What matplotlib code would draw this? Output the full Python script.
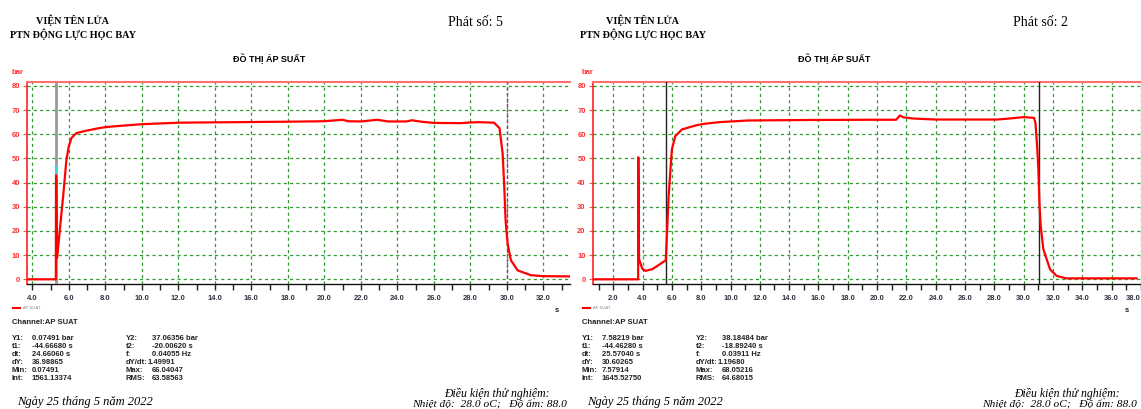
import matplotlib
matplotlib.use("Agg")
import matplotlib.pyplot as plt
import numpy as np

# Phát số 5 (left) - pressure trace
t5 = [3.71, 5.29, 5.30, 5.32, 5.36, 5.51, 5.69, 5.87, 6.0, 6.15, 6.42, 6.97, 7.7, 8.06, 9.0,
      10.07, 12.08, 15.0, 18.0, 20.0, 21.0, 21.3, 22.0, 22.9, 23.5, 24.5, 24.8, 25.3, 26.0,
      27.5, 28.0, 28.5, 29.3, 29.6, 29.77, 29.86, 29.93, 30.04, 30.22, 30.59, 31.32, 32.0, 33.46]
p5 = [0, 0, 43, 42, 8.8, 20.5, 34.3, 49.5, 55, 58.5, 60.5, 61.5, 62.6, 63, 63.6,
      64.2, 64.8, 65.0, 65.2, 65.4, 66.0, 65.4, 65.3, 66.0, 65.3, 65.3, 65.8, 65.2, 64.7,
      64.6, 64.9, 65.0, 64.8, 62.5, 52, 38, 24.5, 14.8, 7.9, 3.7, 1.7, 1.3, 1.2]

# Phát số 2 (right)
t2 = [0.6, 3.70, 3.71, 3.73, 3.76, 3.99, 4.21, 4.67, 5.0, 5.46, 5.58, 5.62, 5.78, 6.0, 6.23,
      6.69, 7.6, 8.05, 9.19, 11.2, 15.0, 19.4, 21.3, 21.56, 21.8, 22.5, 24.0, 28.2, 29.0,
      30.0, 30.7, 30.8, 30.9, 31.0, 31.07, 31.16, 31.34, 31.8, 32.25, 32.9, 37.7]
p2 = [0, 0, 50.5, 38, 8.3, 4.3, 3.5, 4.2, 5.5, 7.4, 7.6, 12.4, 34.4, 53.7, 59.2,
      62, 63.6, 64.2, 65, 65.7, 65.9, 66, 66, 67.8, 67, 66.5, 66.1, 66.1, 66.5,
      67.1, 66.8, 64.7, 56.5, 45.4, 31.6, 22, 12.4, 4.1, 1.4, 0.4, 0.4]

shots = ["5", "2"]
cursors = [(5.30, 30.0), (5.58, 31.06)]
stats = [
    [("Y1:", "0.07491 bar", "Y2:", "37.06356 bar"),
     ("t1:", "-44.66680 s", "t2:", "-20.00620 s"),
     ("dt:", "24.66060 s", "f:", "0.04055 Hz"),
     ("dY:", "36.98865", "dY/dt:", "1.49991"),
     ("Min:", "0.07491", "Max:", "66.04047"),
     ("Int:", "1561.13374", "RMS:", "63.58563")],
    [("Y1:", "7.58219 bar", "Y2:", "38.18484 bar"),
     ("t1:", "-44.46280 s", "t2:", "-18.89240 s"),
     ("dt:", "25.57040 s", "f:", "0.03911 Hz"),
     ("dY:", "30.60265", "dY/dt:", "1.19680"),
     ("Min:", "7.57914", "Max:", "68.05216"),
     ("Int:", "1645.52750", "RMS:", "64.68015")],
]

W, H = 1141, 409
fig = plt.figure(figsize=(W / 100, H / 100), dpi=100)
fig.patch.set_facecolor("white")

serif = ["Liberation Serif", "DejaVu Serif"]
sans = ["Liberation Sans", "DejaVu Sans"]

def fx(px):
    return px / W

def fy(py):
    return 1 - py / H

panels = [
    dict(x0=27, x1=570, xlim=(3.71, 33.46), t=t5, p=p5, xt=np.arange(4, 34, 2)),
    dict(x0=592.7, x1=1141, xlim=(0.6, 38.0), t=t2, p=p2, xt=np.arange(2, 40, 2)),
]
offs = [0, 570]
grid_kw = dict(color="#2f9a2f", lw=0.9, ls=(0, (2.5, 2.5)), zorder=1)

for i, pn in enumerate(panels):
    o = offs[i]
    ax = fig.add_axes([fx(pn["x0"]), fy(284), fx(pn["x1"] - pn["x0"]), (284 - 82.3) / H])
    ax.set_xlim(*pn["xlim"])
    ax.set_ylim(-1.94, 81.5)
    for v in pn["xt"]:
        ax.axvline(v, **grid_kw)
    for v in range(0, 90, 10):
        ax.axhline(v, **grid_kw)
    ax.plot(pn["t"], pn["p"], color="#ff0000", lw=1.6, zorder=4)

    c1, c2 = cursors[i]
    if i == 0:
        ax.axvline(c1, color="#999999", lw=2, zorder=3)
        ax.plot([c1 + 0.03, c1 + 0.03], [9, 47], color="#33e0f0", lw=1.2, zorder=3)
        ax.axvline(c2, color="#993388", lw=1, ls=(0, (2, 2)), zorder=3)
    else:
        ax.axvline(c1, color="#222222", lw=1, zorder=3)
        ax.axvline(c2, color="#222222", lw=1, zorder=3)

    ax.spines["right"].set_visible(False)
    ax.spines["top"].set_color("#ff7070")
    ax.spines["top"].set_linewidth(1.5)
    ax.spines["left"].set_color("#ff2020")
    ax.spines["left"].set_linewidth(1.2)
    ax.spines["bottom"].set_color("#111111")
    ax.spines["bottom"].set_linewidth(1)

    ax.set_xticks(np.arange(int(pn["xlim"][0]) + 1, pn["xlim"][1], 1), minor=True)
    ax.set_xticks(pn["xt"])
    labels = ax.set_xticklabels(["%.1f" % v for v in pn["xt"]], fontsize=5.5, fontweight="bold",
                                color="#333344", family=sans)
    if pn["xt"][-1] > pn["xlim"][1] - 0.5:
        labels[-1].set_horizontalalignment("right")
    ax.tick_params(axis="x", which="both", direction="out", length=4, width=1, color="#222222", pad=4)
    ax.set_yticks(range(0, 90, 10))
    ax.set_yticklabels([str(v) for v in range(0, 90, 10)], fontsize=5.5, fontweight="bold",
                       color="#ff3030", family=sans)
    ax.tick_params(axis="y", direction="out", length=3, width=0.8, color="#ff5050", pad=2)

    # axis units
    fig.text(fx(o + 12), fy(73), "bar", fontsize=5.5, fontweight="bold", color="#ff3030",
             family=sans, va="center")
    fig.text(fx(o + 555), fy(310), "s", fontsize=5.5, fontweight="bold", color="#222222",
             family=sans, va="center")

    # headers
    fig.text(fx(o + 73), fy(20), "VIỆN TÊN LỬA", fontsize=7.3, fontweight="bold", family=serif,
             ha="center", va="center")
    fig.text(fx(o + 73), fy(34), "PTN ĐỘNG LỰC HỌC BAY", fontsize=7.3, fontweight="bold",
             family=serif, ha="center", va="center")
    fig.text(fx(o + (503 if i == 0 else 498)), fy(23), "Phát số: " + shots[i], fontsize=10,
             family=serif, ha="right", va="center")
    fig.text(fx(o + (269 if i == 0 else 264)), fy(59), "ĐỒ THỊ ÁP SUẤT", fontsize=6.5,
             fontweight="bold", family=sans, ha="center", va="center")

    # legend
    fig.lines.append(plt.Line2D([fx(o + 13), fx(o + 20)], [fy(308), fy(308)], color="red",
                                lw=1.5, transform=fig.transFigure))
    fig.text(fx(o + 23), fy(308), "AP SUAT", fontsize=3, color="#888888", family=sans,
             va="center")
    fig.text(fx(o + 12), fy(323), "Channel:AP SUAT", fontsize=5.5, fontweight="bold",
             family=sans, va="center", color="#222222")
    for r, (a, b, c, d) in enumerate(stats[i]):
        yy = fy(338 + r * 8)
        fig.text(fx(o + 12), yy, a, fontsize=5.5, fontweight="bold", family=sans, va="center", color="#222222")
        fig.text(fx(o + 32), yy, b, fontsize=5.5, fontweight="bold", family=sans, va="center", color="#222222")
        fig.text(fx(o + 126), yy, c, fontsize=5.5, fontweight="bold", family=sans, va="center", color="#222222")
        fig.text(fx(o + 152 if c != "dY/dt:" else o + 148), yy, d, fontsize=5.5, fontweight="bold",
                 family=sans, va="center", color="#222222")

    # footer
    fig.text(fx(o + 17), fy(402), "Ngày 25 tháng 5 năm 2022", fontsize=9, style="italic",
             family=serif, va="center")
    fig.text(fx(o + 497), fy(394), "Điều kiện thử nghiệm:", fontsize=8.5, style="italic",
             family=serif, ha="center", va="center")
    fig.text(fx(o + 567), fy(405), "Nhiệt độ:  28.0 oC;   Độ ẩm: 88.0", fontsize=8.2,
             style="italic", family=serif, ha="right", va="center")

fig.savefig("out.png", dpi=100)
